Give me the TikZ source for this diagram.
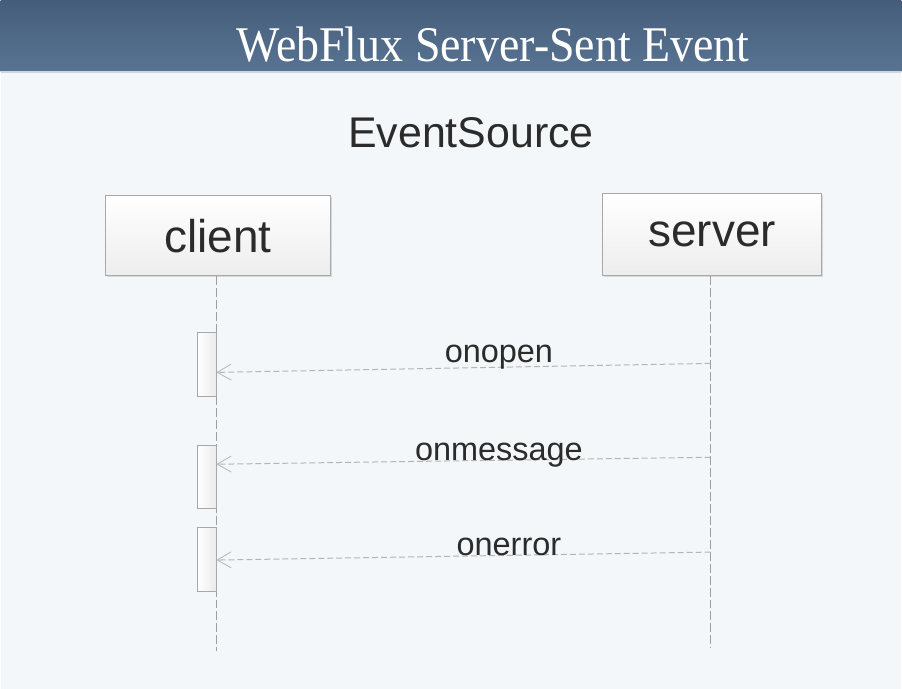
\documentclass[tikz,border=0pt]{standalone}
\usepackage{fontspec}
\setmainfont{Liberation Serif}
\setsansfont{Liberation Sans}
\usepackage{xcolor}
\usetikzlibrary{arrows.meta,positioning,calc,shadows}

\definecolor{bgpanel}{HTML}{F3F7F9}
\definecolor{bartop}{HTML}{455D7B}
\definecolor{barbot}{HTML}{587492}
\definecolor{lifegray}{HTML}{9E9E9E}
\definecolor{msggray}{HTML}{B4B4B4}
\definecolor{boxedge}{HTML}{A8A8A8}
\definecolor{inktext}{HTML}{2B2B2B}

\begin{document}
\begin{tikzpicture}[x=1pt, y=-1pt,
    actor/.style={draw=boxedge, line width=1pt, top color=white, bottom color=black!7,
      minimum width=225pt, minimum height=80pt, inner sep=0pt,
      font=\sffamily\fontsize{46}{50}\selectfont, text=inktext,
      drop shadow={shadow xshift=1.5pt, shadow yshift=-1.5pt, opacity=0.25, fill=black!50}},
    activation/.style={draw=boxedge, line width=1pt, left color=white, right color=black!8,
      minimum width=19pt, minimum height=64pt, inner sep=0pt,
      drop shadow={shadow xshift=1pt, shadow yshift=-1pt, opacity=0.2, fill=black!50}},
    lifeline/.style={draw=lifegray, line width=1pt, dash pattern=on 9pt off 3pt},
    message/.style={draw=msggray, line width=1pt, dash pattern=on 6pt off 3pt,
      -{Straight Barb[length=14pt, width=16pt, line width=0.8pt]}},
    msglabel/.style={font=\sffamily\fontsize{32.5}{34}\selectfont, text=inktext, anchor=base, inner sep=0pt}]

    % page and title bar
    \fill[bgpanel] (0,0) rectangle (902,690);
    \shade[top color=bartop, bottom color=barbot] (0,0) rectangle (902,72);
    \draw[white!70!barbot, line width=1.5pt] (0,72) -- (902,72);
    \node[text=white, font=\rmfamily\fontsize{50}{54}\selectfont, anchor=base] (title) at (493,62)
      {\addfontfeature{FakeStretch=0.92}WebFlux Server-Sent Event};
    \node[font=\sffamily\fontsize{43}{46}\selectfont, text=inktext, anchor=base] (heading) at (471,148) {EventSource};

    % actors
    \node[actor] (client) at (217.5,236) {client};
    \node[actor, minimum width=219pt, minimum height=82pt] (server) at (712.5,235) {server};

    % lifelines
    \coordinate (clientend) at (216,652);
    \coordinate (serverend) at (711,649);
    \draw[lifeline] ($(client.south)+(-1.5,0)$) -- (clientend);
    \draw[lifeline] ($(server.south)+(-1.5,0)$) -- (serverend);

    % activations
    \node[activation] (actopen) at (206.5,365) {};
    \node[activation, minimum height=63pt] (actmsg) at (206.5,477.5) {};
    \node[activation] (acterr) at (206.5,560) {};

    % messages
    \coordinate (sopen) at (711,364);
    \coordinate (smsg) at (711,458);
    \coordinate (serr) at (711,553);
    \coordinate (copen) at (216,373);
    \coordinate (cmsg) at (216,465);
    \coordinate (cerr) at (216,561);
    \draw[message] (sopen) -- (copen);
    \draw[message] (smsg) -- (cmsg);
    \draw[message] (serr) -- (cerr);
    \node[msglabel] (lblopen) at (499,363) {onopen};
    \node[msglabel] (lblmsg) at (499,461) {onmessage};
    \node[msglabel] (lblerr) at (509,556) {onerror};
\end{tikzpicture}
\end{document}
